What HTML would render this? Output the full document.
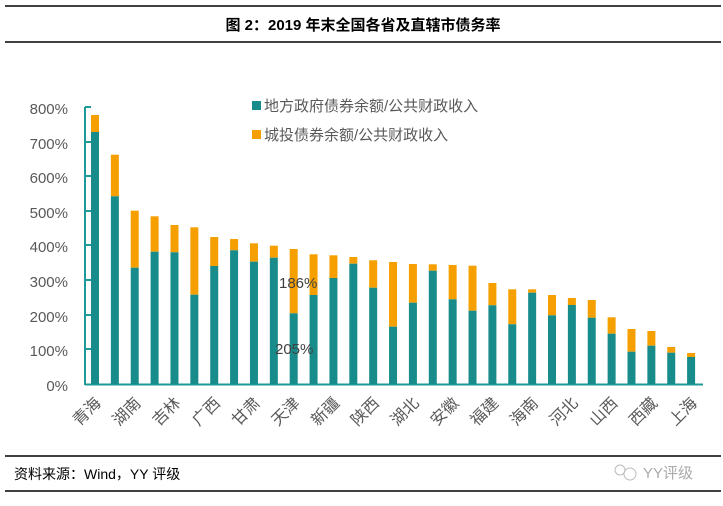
<!DOCTYPE html>
<html><head><meta charset="utf-8"><style>
html,body{margin:0;padding:0;background:#fff;}
svg text{font-family:"Liberation Sans","Noto Sans CJK SC",sans-serif;}
</style></head><body>
<svg width="723" height="501" viewBox="0 0 723 501" xmlns="http://www.w3.org/2000/svg">
<rect width="723" height="501" fill="#fff"/>
<line x1="5" y1="6" x2="721" y2="6" stroke="#000" stroke-width="1.5"/>
<line x1="5" y1="42" x2="721" y2="42" stroke="#000" stroke-width="1.5"/>
<text x="363" y="30" text-anchor="middle" font-size="15" font-weight="bold" fill="#000">图 2：2019 年末全国各省及直辖市债务率</text>
<line x1="5" y1="456" x2="721" y2="456" stroke="#000" stroke-width="1.5"/>
<line x1="5" y1="491" x2="721" y2="491" stroke="#000" stroke-width="1.5"/>
<text x="14" y="479" font-size="14" fill="#000">资料来源：Wind，YY 评级</text>
<g fill="none" stroke="#bbb" stroke-width="1"><circle cx="620" cy="470" r="5"/><circle cx="630" cy="474" r="6"/></g>
<text x="643" y="478" font-size="15" fill="#aaa">YY评级</text>
<g font-size="15" fill="#595959" text-anchor="end">
<text x="68" y="114">800%</text><text x="68" y="149">700%</text><text x="68" y="183">600%</text><text x="68" y="218">500%</text><text x="68" y="252">400%</text><text x="68" y="287">300%</text><text x="68" y="322">200%</text><text x="68" y="356">100%</text><text x="68" y="391">0%</text>
</g>
<g stroke="#1D9A97" stroke-width="2">
<line x1="85" y1="107" x2="85" y2="385"/>
<line x1="85" y1="384.5" x2="703" y2="384.5"/>
<line x1="85" y1="107" x2="91" y2="107"/><line x1="85" y1="142" x2="91" y2="142"/><line x1="85" y1="176" x2="91" y2="176"/><line x1="85" y1="211" x2="91" y2="211"/><line x1="85" y1="245" x2="91" y2="245"/><line x1="85" y1="280" x2="91" y2="280"/><line x1="85" y1="315" x2="91" y2="315"/><line x1="85" y1="349" x2="91" y2="349"/>
</g>
<g id="bars"></g>
<rect x="252" y="101" width="9" height="9" fill="#178C8A"/>
<rect x="252" y="130" width="9" height="9" fill="#F5A000"/>
<text x="264" y="111" font-size="15" fill="#595959">地方政府债券余额/公共财政收入</text>
<text x="264" y="140" font-size="15" fill="#595959">城投债券余额/公共财政收入</text>
<g id="labels" font-size="16" fill="#595959"></g>
<text x="279" y="288" font-size="15" fill="#404040">186%</text>
<text x="275" y="354" font-size="15" fill="#404040">205%</text>
<script>
var tops=[115,154.7,210.7,216.3,225,227.3,237,239,243.3,245.7,249,254.3,255.3,257,260.3,262,264,264.3,265,265.7,283,289.3,289.3,295,298,300,317.3,329,331,347,353];
var gr=[132,196.3,267.7,251.7,252.3,294.7,266,250.3,261.7,257.7,313.3,295,278,263.7,287.7,326.7,302.7,270.7,299.3,310.7,305.3,324.3,292.7,315.3,305,317.7,333.7,351.7,345.7,352.7,357];
var names=["青海","湖南","吉林","广西","甘肃","天津","新疆","陕西","湖北","安徽","福建","海南","河北","山西","西藏","上海"];
var ns="http://www.w3.org/2000/svg",b=document.getElementById("bars"),L=document.getElementById("labels");
for(var i=0;i<31;i++){var cx=95+i*19.87;
var r1=document.createElementNS(ns,"rect");r1.setAttribute("x",cx-4);r1.setAttribute("width",8);r1.setAttribute("y",tops[i]);r1.setAttribute("height",gr[i]-tops[i]);r1.setAttribute("fill","#F5A000");b.appendChild(r1);
var r2=document.createElementNS(ns,"rect");r2.setAttribute("x",cx-4);r2.setAttribute("width",8);r2.setAttribute("y",gr[i]);r2.setAttribute("height",384-gr[i]);r2.setAttribute("fill","#178C8A");b.appendChild(r2);
if(i%2==0){var t=document.createElementNS(ns,"text");var x=cx+7,y=404;t.setAttribute("x",x);t.setAttribute("y",y);t.setAttribute("text-anchor","end");t.setAttribute("transform","rotate(-45 "+x+" "+y+")");t.textContent=names[i/2];L.appendChild(t);}}
</script>
</svg>
</body></html>
